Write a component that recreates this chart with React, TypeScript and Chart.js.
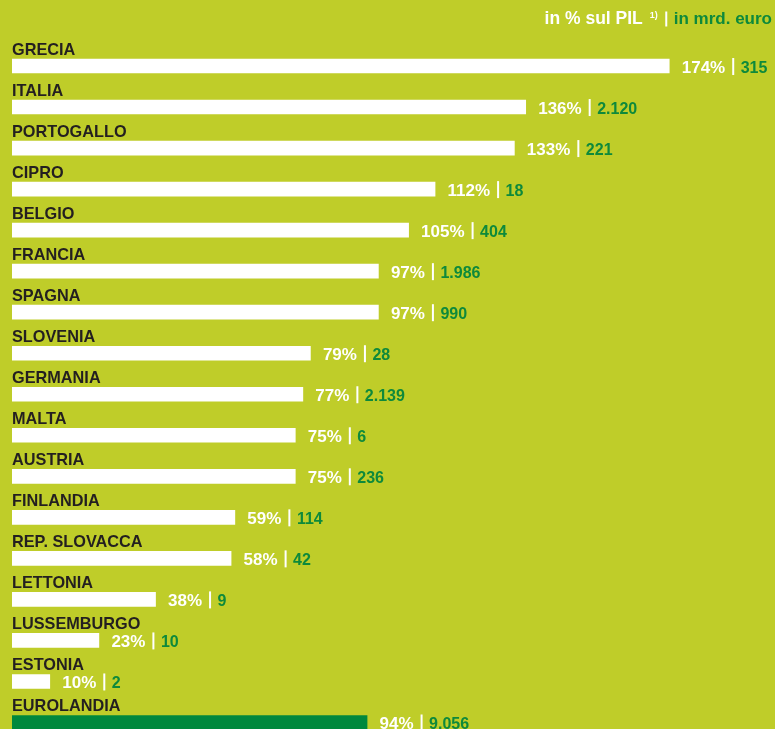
import { useEffect, useRef } from 'react';
import { Chart, registerables } from 'chart.js';

Chart.register(...registerables);

const categories = [
  'GRECIA', 'ITALIA', 'PORTOGALLO', 'CIPRO', 'BELGIO', 'FRANCIA', 'SPAGNA', 'SLOVENIA',
  'GERMANIA', 'MALTA', 'AUSTRIA', 'FINLANDIA', 'REP. SLOVACCA', 'LETTONIA', 'LUSSEMBURGO',
  'ESTONIA', 'EUROLANDIA',
];
const debtPctGdp = [174, 136, 133, 112, 105, 97, 97, 79, 77, 75, 75, 59, 58, 38, 23, 10, 94];
const debtBillionsEuro = [
  '315', '2.120', '221', '18', '404', '1.986', '990', '28', '2.139', '6', '236', '114', '42',
  '9', '10', '2', '9.056',
];
const highlightCategory = 'EUROLANDIA';
const headerLeft = 'in % sul PIL';
const headerNote = '1)';
const headerRight = 'in mrd. euro';

const BG = '#BFCD29';
const GREEN_TEXT = '#0E893B';
const GREEN_BAR = '#00883D';
const DARK = '#231F20';
const FONT = '"Liberation Sans", Arial, Helvetica, sans-serif';

const rowLabelsPlugin = {
  id: 'rowLabels',
  afterDatasetsDraw(chart: any) {
    const ctx: CanvasRenderingContext2D = chart.ctx;
    const meta = chart.getDatasetMeta(0);
    ctx.save();
    ctx.textBaseline = 'alphabetic';
    ctx.textAlign = 'left';
    meta.data.forEach((bar: any, i: number) => {
      const { x, y, base } = bar.getProps(['x', 'y', 'base'], true);
      ctx.font = `bold 16.3px ${FONT}`;
      ctx.fillStyle = DARK;
      ctx.fillText(categories[i], base, y - 11.3);

      let cx = x + 12.5;
      ctx.font = `bold 17px ${FONT}`;
      ctx.fillStyle = '#FFFFFF';
      const pct = `${debtPctGdp[i]}%`;
      ctx.fillText(pct, cx, y + 6.8);
      cx += ctx.measureText(pct).width + 7;
      ctx.fillRect(cx, y - 8, 2, 17);
      cx += 2 + 6.5;
      ctx.font = `bold 16px ${FONT}`;
      ctx.fillStyle = GREEN_TEXT;
      ctx.fillText(debtBillionsEuro[i], cx, y + 6.8);
    });

    // header, right aligned
    let rx = chart.width - 3;
    const hy = 24;
    ctx.textAlign = 'right';
    ctx.font = `bold 17px ${FONT}`;
    ctx.fillStyle = GREEN_TEXT;
    ctx.fillText(headerRight, rx, hy);
    rx -= ctx.measureText(headerRight).width + 6.5;
    ctx.fillStyle = '#FFFFFF';
    ctx.fillRect(rx - 2, 11.5, 2, 15);
    rx -= 2 + 7.5;
    ctx.font = `bold 9px ${FONT}`;
    ctx.fillText(headerNote, rx, 17.5);
    rx -= ctx.measureText(headerNote).width + 7;
    ctx.font = `bold 17.5px ${FONT}`;
    ctx.fillText(headerLeft, rx, hy);
    ctx.restore();
  },
};

export default function App() {
  const canvasRef = useRef<HTMLCanvasElement | null>(null);

  useEffect(() => {
    document.body.style.margin = '0';
    const canvas = canvasRef.current;
    if (!canvas) return;
    const chart = new Chart(canvas, {
      type: 'bar',
      data: {
        labels: categories,
        datasets: [
          {
            data: debtPctGdp,
            backgroundColor: categories.map((c) => (c === highlightCategory ? GREEN_BAR : '#FFFFFF')),
            borderWidth: 0,
            barThickness: 14,
          },
        ],
      },
      options: {
        indexAxis: 'y',
        animation: false,
        responsive: false,
        devicePixelRatio: 1,
        layout: { padding: { left: 12, right: 0, top: 45.5, bottom: 0 } },
        plugins: { legend: { display: false }, tooltip: { enabled: false } },
        scales: {
          x: { type: 'linear', min: 0, max: 202, display: false },
          y: { type: 'category', display: false },
        },
      },
      plugins: [rowLabelsPlugin],
    });
    return () => chart.destroy();
  }, []);

  return (
    <div
      style={{
        position: 'fixed',
        left: 0,
        top: 0,
        width: 775,
        height: 729,
        overflow: 'hidden',
        background: BG,
      }}
    >
      <canvas ref={canvasRef} width={775} height={743} style={{ display: 'block' }} />
    </div>
  );
}
